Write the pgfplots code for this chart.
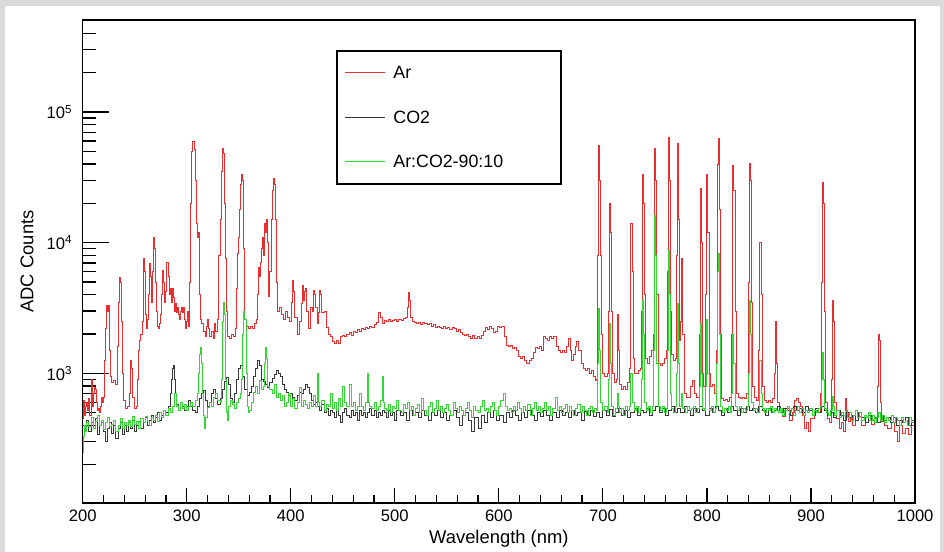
\documentclass[border=0pt]{standalone}
\usepackage{pgfplots}
\pgfplotsset{compat=1.18}
\usepackage{pgfplotstable}
\usepackage{fontspec}
\setmainfont{Liberation Sans}

\definecolor{arcol}{RGB}{235,45,45}
\definecolor{cocol}{RGB}{55,55,55}
\definecolor{mixcol}{RGB}{50,215,50}
\definecolor{padgrey}{RGB}{218,218,218}

% Ar spectrum (nm, ADC counts), bin left edges
\pgfplotstableread[row sep=\\]{
x y\\
200 450\\201 620\\202 480\\203 560\\204 600\\205 520\\206 640\\207 480\\208 900\\209 560\\210 700\\211 780\\212 760\\213 600\\214 520\\215 540\\216 500\\217 560\\218 660\\219 600\\
220 660\\221 1250\\222 2200\\223 3300\\224 3000\\225 3300\\226 1500\\227 950\\228 850\\230 880\\232 820\\233 1600\\234 3500\\235 5400\\236 5000\\237 2500\\238 1000\\239 620\\241 540\\243 560\\245 700\\246 1250\\247 1100\\248 650\\250 540\\252 560\\253 900\\254 1500\\255 1800\\256 2000\\257 2500\\258 7600\\259 6000\\260 2800\\261 2200\\262 2600\\263 4000\\264 6900\\265 5500\\266 3500\\267 6000\\268 11000\\269 9000\\270 5000\\271 3000\\272 2300\\273 2200\\274 2400\\275 2800\\276 4000\\277 6100\\278 5000\\279 3500\\280 4200\\281 7000\\282 5500\\283 4000\\284 4500\\285 3500\\286 4500\\287 3800\\288 3000\\289 3400\\290 2900\\291 3200\\292 2800\\293 2600\\294 3000\\295 3200\\296 2900\\297 3200\\298 2600\\299 2200\\300 2500\\301 3000\\302 2300\\303 5000\\304 20000\\305 50000\\306 59000\\307 52000\\308 30000\\309 14000\\310 11000\\311 12000\\312 4000\\313 2600\\314 2400\\316 2100\\318 1900\\319 2300\\320 2600\\321 2200\\322 1900\\324 2100\\326 1850\\327 2400\\328 2100\\330 2600\\331 8000\\332 15000\\333 35000\\334 53000\\335 48000\\336 20000\\337 7600\\338 3000\\339 1900\\341 1850\\343 2000\\345 1900\\347 2200\\348 4500\\349 8300\\350 11000\\351 18000\\352 28000\\353 33000\\354 30000\\355 9000\\356 2600\\357 2300\\359 2200\\361 2300\\363 2200\\365 2400\\367 2600\\368 4000\\369 6500\\370 5500\\371 7000\\372 9000\\373 11000\\374 8000\\375 14000\\376 12000\\377 15000\\378 10000\\379 3900\\380 6000\\381 15000\\382 25000\\383 31000\\384 28000\\385 15000\\386 5000\\387 3000\\389 3200\\391 2800\\393 2600\\395 3000\\397 2700\\399 2500\\401 3500\\402 5100\\403 4200\\404 2700\\406 2000\\408 2500\\410 3400\\411 4700\\412 3600\\413 4200\\414 4500\\415 3000\\417 2200\\419 3200\\421 3000\\422 4300\\423 4000\\424 3200\\426 2400\\427 2900\\428 4300\\429 4000\\430 2900\\432 3000\\434 2250\\436 2000\\438 1900\\440 1750\\442 1700\\444 1800\\446 1700\\448 1900\\450 1950\\452 1900\\454 2000\\456 2050\\458 1950\\460 2100\\462 2050\\464 2150\\466 2100\\468 2200\\470 2150\\472 2250\\474 2200\\476 2300\\478 2250\\480 2350\\482 2450\\484 2900\\486 2700\\488 2400\\490 2550\\492 2500\\494 2600\\496 2500\\498 2550\\500 2600\\502 2500\\504 2600\\506 2550\\508 2650\\510 2700\\512 3200\\513 4150\\514 3600\\515 2700\\517 2500\\519 2450\\521 2400\\523 2450\\525 2350\\527 2450\\529 2400\\531 2350\\533 2400\\535 2300\\537 2350\\539 2250\\541 2300\\543 2250\\545 2200\\547 2300\\549 2200\\551 2250\\553 2150\\555 2250\\557 2200\\559 2100\\561 2150\\563 2050\\565 2000\\567 1950\\569 2000\\571 1900\\573 1850\\575 1950\\577 1850\\579 1900\\581 1850\\583 1950\\585 2100\\587 2250\\589 2150\\591 2300\\593 2200\\595 2050\\597 2100\\599 2300\\601 2250\\603 2300\\605 1900\\607 1650\\609 1600\\611 1650\\613 1550\\615 1580\\617 1500\\619 1350\\621 1300\\623 1350\\625 1250\\627 1200\\629 1250\\631 1300\\633 1450\\635 1580\\637 1550\\639 1600\\641 1500\\643 1900\\645 1850\\647 1800\\649 1900\\651 1850\\653 1900\\655 1600\\657 1500\\659 1450\\661 1500\\663 1450\\665 1600\\667 1850\\669 1500\\670 1250\\672 1400\\674 1600\\675 1750\\677 1500\\679 1200\\681 1100\\683 1050\\685 1100\\687 1000\\689 1050\\691 950\\693 880\\
694 900\\695 8000\\696 55000\\697 30000\\698 8000\\699 2000\\700 1000\\702 950\\704 1000\\705 3000\\706 20000\\707 12000\\708 3000\\709 1000\\711 850\\713 900\\714 2800\\715 1500\\716 820\\718 760\\720 800\\722 760\\724 850\\726 1100\\727 14000\\728 6000\\729 1300\\730 1000\\732 1000\\734 1050\\736 1100\\737 3000\\738 33000\\739 20000\\740 4000\\741 1300\\743 1200\\745 1350\\747 1500\\749 2000\\750 53000\\751 30000\\752 4000\\753 1200\\755 1150\\757 1200\\759 1300\\761 1500\\762 6000\\763 64000\\764 30000\\765 3000\\766 1400\\768 1250\\770 1300\\771 8000\\772 57000\\773 15000\\774 1800\\775 2500\\776 7600\\777 2000\\778 700\\780 650\\782 660\\784 800\\786 880\\788 700\\790 650\\792 660\\793 2000\\794 26000\\795 10000\\796 1000\\797 800\\799 4000\\800 33000\\801 12000\\802 1000\\803 800\\805 820\\807 700\\809 1500\\810 40000\\811 63000\\812 18000\\813 2000\\814 640\\816 620\\818 630\\820 610\\822 650\\824 2000\\825 39000\\826 25000\\827 3000\\828 700\\830 650\\832 640\\834 660\\836 640\\838 700\\840 5000\\841 40500\\842 30000\\843 3500\\844 800\\846 650\\848 620\\850 1500\\851 10000\\852 4000\\853 800\\855 620\\857 600\\859 620\\861 600\\863 640\\865 1000\\866 2500\\867 1200\\868 600\\870 520\\873 470\\876 540\\879 440\\882 500\\884 620\\886 640\\888 600\\890 560\\892 480\\894 380\\896 420\\898 360\\900 450\\903 520\\906 500\\909 700\\910 5000\\911 29000\\912 20000\\913 3000\\914 600\\916 450\\918 420\\920 900\\921 3600\\922 2500\\923 600\\925 450\\927 380\\929 420\\931 360\\933 640\\934 500\\936 430\\938 460\\940 400\\943 440\\946 470\\949 400\\952 420\\955 440\\958 410\\961 450\\964 800\\965 2000\\966 1800\\967 600\\968 430\\971 400\\974 380\\977 420\\980 360\\983 300\\985 400\\988 350\\991 380\\994 340\\997 400\\1000 400\\
}\tabAr

% CO2 spectrum
\pgfplotstableread[row sep=\\]{
x y\\
200 400\\202 380\\204 440\\206 360\\208 420\\210 380\\212 450\\214 340\\216 400\\218 420\\220 360\\222 300\\224 380\\226 420\\228 350\\230 400\\232 320\\234 380\\236 420\\238 340\\240 400\\242 360\\244 420\\246 380\\248 440\\250 360\\252 400\\254 430\\256 380\\258 420\\260 460\\262 400\\264 440\\266 480\\268 420\\270 460\\272 500\\274 440\\276 480\\278 520\\280 500\\282 560\\284 700\\285 900\\286 1100\\287 1150\\288 900\\289 700\\290 580\\292 520\\294 600\\296 560\\298 520\\300 560\\302 620\\304 560\\306 520\\308 500\\310 560\\312 640\\314 700\\316 740\\318 620\\320 560\\322 600\\324 700\\326 760\\328 640\\330 580\\332 640\\334 760\\336 860\\338 930\\340 820\\342 640\\344 600\\346 700\\348 900\\350 1100\\352 1150\\354 950\\356 760\\358 680\\360 720\\362 800\\364 950\\366 1100\\368 1250\\370 1150\\372 900\\374 860\\376 820\\378 780\\380 850\\382 920\\384 980\\386 1050\\388 1000\\390 940\\392 820\\394 760\\396 720\\398 680\\400 700\\402 660\\404 620\\406 680\\408 720\\410 700\\412 760\\414 830\\416 780\\418 700\\420 620\\422 580\\424 600\\426 560\\428 520\\430 580\\432 500\\434 540\\436 480\\438 520\\440 500\\442 460\\444 520\\446 480\\448 420\\450 500\\452 540\\454 480\\456 460\\458 520\\460 480\\462 500\\464 440\\466 520\\468 480\\470 500\\472 460\\474 500\\476 540\\478 480\\480 520\\482 460\\484 500\\486 480\\488 520\\490 500\\492 460\\494 520\\496 480\\498 500\\500 440\\
502 520\\505 480\\508 500\\511 440\\514 520\\517 480\\520 500\\523 460\\526 520\\529 480\\532 440\\535 500\\538 480\\541 520\\544 460\\547 500\\550 440\\553 480\\556 520\\559 460\\562 400\\565 480\\568 500\\571 440\\574 360\\577 460\\580 380\\583 480\\586 420\\589 500\\592 460\\595 520\\598 440\\601 480\\604 420\\607 500\\610 460\\613 520\\616 480\\619 440\\622 500\\625 460\\628 520\\631 480\\634 440\\637 500\\640 470\\643 520\\646 480\\649 440\\652 500\\655 460\\658 520\\661 480\\664 500\\667 460\\670 520\\673 480\\676 500\\679 440\\682 510\\685 480\\688 520\\691 470\\694 500\\697 460\\700 520\\703 480\\706 530\\709 470\\712 500\\715 540\\718 480\\721 520\\724 460\\727 500\\730 540\\733 480\\736 520\\739 500\\742 540\\745 480\\748 520\\751 560\\754 500\\757 540\\760 480\\763 520\\766 560\\769 500\\772 540\\775 500\\778 560\\781 520\\784 480\\787 540\\790 500\\793 560\\796 520\\799 480\\802 540\\805 500\\808 560\\811 520\\814 480\\817 540\\820 500\\823 560\\826 520\\829 480\\832 540\\835 500\\838 560\\841 520\\844 540\\847 500\\850 560\\853 520\\856 480\\859 540\\862 500\\865 520\\868 560\\871 500\\874 540\\877 520\\880 480\\883 560\\886 520\\889 540\\892 500\\895 560\\898 520\\901 480\\904 540\\907 500\\910 560\\913 520\\916 480\\919 500\\922 460\\925 520\\928 480\\931 440\\934 500\\937 460\\940 480\\943 440\\946 500\\949 460\\952 420\\955 480\\958 440\\961 460\\964 420\\967 480\\970 440\\973 460\\976 420\\979 460\\982 400\\985 440\\988 420\\991 460\\994 400\\997 440\\1000 440\\
}\tabCO

% Ar:CO2 90:10 spectrum
\pgfplotstableread[row sep=\\]{
x y\\
200 250\\201 330\\202 400\\203 360\\204 420\\206 390\\208 460\\210 380\\212 430\\214 480\\216 400\\218 440\\220 370\\222 420\\224 460\\226 390\\228 410\\230 440\\232 360\\234 400\\236 450\\238 380\\240 420\\242 400\\244 440\\246 390\\248 470\\250 410\\252 430\\254 380\\256 450\\258 420\\260 470\\262 430\\264 400\\266 460\\268 440\\270 480\\272 430\\274 500\\276 460\\278 520\\280 480\\282 540\\284 500\\286 560\\288 700\\290 560\\292 520\\294 600\\296 540\\298 580\\300 520\\302 560\\304 600\\306 560\\308 620\\310 700\\311 1000\\312 1400\\313 1570\\314 1200\\315 700\\316 480\\317 380\\318 460\\320 550\\322 600\\324 560\\326 650\\328 700\\330 620\\332 600\\333 900\\334 2500\\335 3480\\336 2800\\337 900\\338 500\\339 440\\340 560\\342 620\\344 580\\346 540\\348 600\\350 640\\352 700\\353 900\\354 2000\\355 3000\\356 2600\\357 1000\\358 560\\359 500\\360 520\\362 600\\364 720\\366 800\\368 700\\370 880\\372 750\\374 800\\375 1200\\376 1570\\377 1300\\378 800\\380 750\\382 700\\384 820\\386 650\\388 700\\390 620\\392 680\\394 560\\396 600\\398 700\\400 560\\402 640\\404 540\\406 600\\408 780\\410 560\\412 620\\414 580\\416 540\\418 600\\420 560\\422 680\\424 560\\426 1000\\427 600\\428 560\\430 620\\432 520\\434 580\\436 560\\438 700\\440 540\\442 600\\444 520\\446 640\\448 560\\450 800\\452 600\\454 560\\456 820\\458 560\\460 600\\462 520\\464 560\\466 700\\468 560\\470 520\\472 600\\474 1000\\475 600\\476 560\\478 540\\480 600\\482 520\\484 560\\486 620\\488 950\\489 600\\490 540\\492 520\\494 580\\496 500\\498 560\\500 540\\
502 620\\504 520\\506 500\\508 580\\510 540\\512 600\\514 520\\516 560\\518 480\\520 540\\522 580\\524 500\\526 640\\528 520\\530 480\\532 560\\534 600\\536 500\\538 540\\540 620\\542 520\\544 560\\546 500\\548 540\\550 580\\552 520\\554 480\\556 600\\558 540\\560 500\\562 560\\564 520\\566 480\\568 540\\570 600\\572 520\\574 460\\576 560\\578 520\\580 500\\582 560\\584 620\\586 520\\588 540\\590 500\\592 560\\594 600\\596 520\\598 480\\600 560\\602 620\\604 700\\606 560\\608 520\\610 540\\612 500\\614 560\\616 520\\618 600\\620 540\\622 500\\624 560\\626 520\\628 580\\630 480\\632 540\\634 600\\636 520\\638 560\\640 500\\642 540\\644 600\\646 520\\648 560\\650 480\\652 540\\654 660\\656 520\\658 560\\660 500\\662 540\\664 580\\666 500\\668 560\\670 520\\672 480\\674 540\\676 580\\678 500\\680 560\\682 520\\684 480\\686 540\\688 560\\690 500\\692 540\\694 520\\
695 1200\\696 3130\\697 1500\\698 600\\700 520\\702 560\\704 500\\705 900\\706 2400\\707 1200\\708 560\\710 480\\712 540\\714 700\\715 560\\716 500\\718 540\\720 480\\722 560\\724 520\\726 560\\727 1000\\728 600\\730 520\\732 560\\734 500\\736 540\\737 900\\738 3600\\739 2000\\740 600\\742 520\\744 560\\746 500\\748 560\\749 1500\\750 16200\\751 8000\\752 1200\\753 560\\755 520\\757 560\\759 500\\761 540\\762 1500\\763 8700\\764 4000\\765 700\\766 540\\768 500\\770 560\\771 1000\\772 3400\\773 1200\\774 560\\776 700\\777 540\\779 500\\781 560\\783 520\\785 540\\787 560\\789 500\\791 540\\793 800\\794 2400\\795 1000\\796 540\\798 520\\799 800\\800 2600\\801 1000\\802 520\\804 560\\806 500\\808 540\\809 1200\\810 6000\\811 8300\\812 2000\\813 560\\815 500\\817 540\\819 520\\821 560\\823 500\\824 700\\825 2000\\826 1200\\827 560\\829 520\\831 560\\833 500\\835 540\\837 520\\839 560\\840 1000\\841 3600\\842 2000\\843 600\\845 520\\847 540\\849 500\\851 1250\\852 700\\853 540\\855 500\\857 540\\859 520\\861 560\\863 500\\865 540\\867 520\\869 500\\871 540\\873 480\\875 520\\877 560\\879 500\\881 540\\883 480\\885 520\\887 560\\889 500\\891 540\\893 480\\895 520\\897 500\\899 540\\901 480\\903 520\\905 500\\907 540\\909 560\\910 900\\911 1440\\912 900\\913 540\\915 500\\917 480\\919 520\\921 670\\922 560\\923 480\\925 520\\927 460\\929 500\\931 480\\933 520\\935 460\\937 500\\939 440\\941 480\\943 520\\945 460\\947 500\\949 440\\951 480\\953 460\\955 500\\957 440\\959 480\\961 420\\963 460\\965 500\\967 440\\969 480\\971 420\\973 460\\975 440\\977 480\\979 420\\981 460\\983 440\\985 400\\987 460\\989 420\\991 440\\993 400\\995 460\\997 420\\999 440\\1000 440\\
}\tabMix

\begin{document}
\begin{tikzpicture}
\path[use as bounding box] (0,0) rectangle (472pt,276pt);
\fill[padgrey] (0,0) rectangle (472pt,276pt);
\fill[white] (2.5pt,0) rectangle (470pt,273pt);

% data axis: frame, y ticks
\begin{axis}[
  at={(41.35pt,24.5pt)}, anchor=south west,
  scale only axis, width=416.15pt, height=241.5pt,
  xmin=200, xmax=1000, ymode=log, ymin=102, ymax=5.06e5,
  axis line style={line width=0.6pt},
  xtick=\empty,
  ytick={1000,10000,100000},
  yticklabels={10\textsuperscript{3},10\textsuperscript{4},10\textsuperscript{5}},
  minor ytick={200,300,400,500,600,700,800,900,2000,3000,4000,5000,6000,7000,8000,9000,20000,30000,40000,50000,60000,70000,80000,90000,200000,300000,400000},
  ytick pos=left, tick align=inside,
  major tick length=13pt, minor tick length=6.5pt,
  tick style={line width=0.6pt, black},
  yticklabel style={anchor=east, inner sep=0pt, xshift=-4.85pt, font=\fontsize{8.3}{10}\selectfont},
  ylabel={ADC Counts},
  ylabel style={at={(axis description cs:-0.0669,0.5)}, anchor=center, font=\fontsize{9.2}{11}\selectfont},
]
\addplot[const plot, arcol, line width=0.5pt] table {\tabAr};
\addplot[const plot, cocol, line width=0.5pt] table {\tabCO};
\addplot[const plot, mixcol, line width=0.5pt] table {\tabMix};
\end{axis}

% overlay axis: x ticks and labels
\begin{axis}[
  at={(41.35pt,24.5pt)}, anchor=south west,
  scale only axis, width=416.15pt, height=241.5pt,
  xmin=200, xmax=1000, ymin=0, ymax=1,
  axis line style={line width=0.6pt},
  ytick=\empty,
  xtick={200,300,...,1000}, minor x tick num=4,
  xtick pos=bottom, tick align=inside,
  major tick length=7.5pt, minor tick length=3.75pt,
  tick style={line width=0.6pt, black},
  xticklabel style={anchor=center, yshift=-6.5pt, font=\fontsize{8.3}{10}\selectfont, /pgf/number format/assume math mode=true, /pgf/number format/1000 sep={}},
  xlabel={Wavelength (nm)},
  xlabel style={at={(axis description cs:0.5,-0.0745)}, anchor=center, font=\fontsize{9.2}{11}\selectfont},
]
\end{axis}

% legend
\draw[line width=0.6pt, fill=white] (168.5pt,184pt) rectangle (280.5pt,250.5pt);
\draw[arcol, line width=0.5pt] (172.5pt,239.8pt) -- (192.5pt,239.8pt);
\draw[cocol, line width=0.5pt] (172.5pt,217.2pt) -- (192.5pt,217.2pt);
\draw[mixcol, line width=0.5pt] (172.5pt,195.2pt) -- (192.5pt,195.2pt);
\begin{scope}[every node/.style={anchor=west, inner sep=0pt, font=\fontsize{8.9}{10}\selectfont}]
\node at (196.5pt,239.8pt) {Ar};
\node at (196.5pt,217.2pt) {CO2};
\node at (196.5pt,195.2pt) {Ar:CO2-90:10};
\end{scope}
\end{tikzpicture}
\end{document}
